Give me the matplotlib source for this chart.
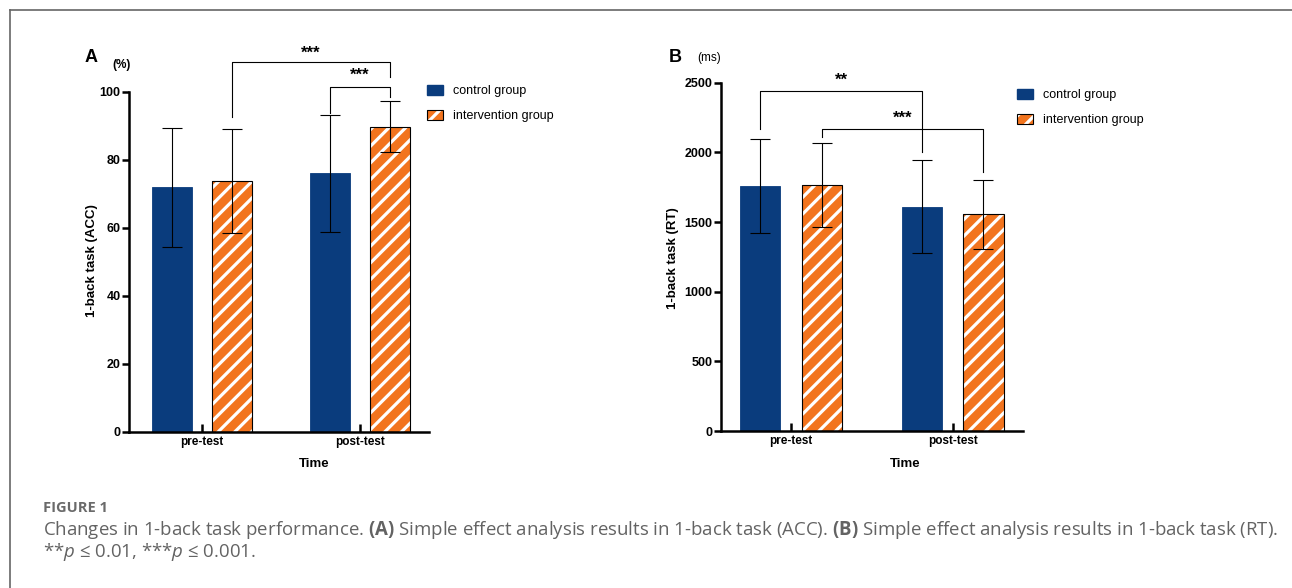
import matplotlib
matplotlib.use("Agg")
import matplotlib.pyplot as plt
from matplotlib.patches import Patch
from matplotlib.lines import Line2D

plt.rcParams['font.family'] = ['Liberation Sans', 'DejaVu Sans']
plt.rcParams['hatch.linewidth'] = 2.3
plt.rcParams['mathtext.fontset'] = 'custom'
plt.rcParams['mathtext.rm'] = 'Open Sans'
plt.rcParams['mathtext.it'] = 'Open Sans:italic'
plt.rcParams['mathtext.bf'] = 'Open Sans:bold'

# data
times = ['pre-test', 'post-test']
groups = ['control group', 'intervention group']

acc_control = [72.0, 76.1]
acc_control_sd = [17.5, 17.2]
acc_interv = [73.8, 89.8]
acc_interv_sd = [15.3, 7.5]

rt_control = [1761, 1610]
rt_control_sd = [337, 333]
rt_interv = [1766, 1556]
rt_interv_sd = [302, 248]

navy = '#0a3c7d'
orange = '#f2741e'
W, H = 1292, 588

fig = plt.figure(figsize=(W / 100, H / 100), dpi=100)


def px_axes(left, right, bottom, top):
    return fig.add_axes([left / W, (H - bottom) / H, (right - left) / W, (bottom - top) / H])


def draw_panel(ax, ctrl, ctrl_sd, intv, intv_sd, ymax, step):
    x = list(range(len(times)))
    off, bw = 0.19, 0.25
    xc = [i - off for i in x]
    xi = [i + off for i in x]
    ax.bar(xc, ctrl, bw, color=navy, edgecolor=navy, linewidth=0.6, zorder=2)
    ax.bar(xi, intv, bw, color=orange, edgecolor='white', hatch='//', linewidth=0, zorder=2)
    ax.bar(xi, intv, bw, fill=False, edgecolor='black', linewidth=0.8, zorder=3)
    ax.errorbar(xc, ctrl, yerr=ctrl_sd, fmt='none', ecolor='black', elinewidth=0.8,
                capsize=7, capthick=0.8, zorder=4)
    ax.errorbar(xi, intv, yerr=intv_sd, fmt='none', ecolor='black', elinewidth=0.8,
                capsize=7, capthick=0.8, zorder=4)
    ax.set_ylim(0, ymax)
    ax.set_yticks(range(0, ymax + 1, step))
    ax.set_xticks(x)
    ax.set_xticklabels(times, fontweight='bold', fontsize=8.5)
    for lab in ax.get_yticklabels():
        lab.set_fontweight('bold')
        lab.set_fontsize(9)
    for s in ['top', 'right']:
        ax.spines[s].set_visible(False)
    for s in ['left', 'bottom']:
        ax.spines[s].set_linewidth(1.8)
    ax.tick_params(axis='y', direction='out', length=5, width=1.8, pad=1)
    ax.tick_params(axis='x', direction='in', length=6, width=1.8, pad=3)
    return xc, xi


def bracket(ax, x1, y1, x2, y2, ytop, label, ylab):
    ax.plot([x1, x1, x2, x2], [y1, ytop, ytop, y2], color='black', lw=0.8,
            clip_on=False, zorder=5)
    ax.text((x1 + x2) / 2, ylab, label, ha='center', va='center', fontsize=12,
            fontweight='bold', clip_on=False)


# Panel A
axA = px_axes(129, 429, 432, 92)
xc, xi = draw_panel(axA, acc_control, acc_control_sd, acc_interv, acc_interv_sd, 100, 20)
axA.set_xlim((129 - 202) / 158, (429 - 202) / 158)
bracket(axA, xi[0], 92.6, xi[1], 104.4, 108.8, '***', 111.5)
bracket(axA, xc[1], 93.8, xi[1], 98.5, 101.5, '***', 105.0)

# Panel B
axB = px_axes(721, 1023, 431, 82.7)
xc, xi = draw_panel(axB, rt_control, rt_control_sd, rt_interv, rt_interv_sd, 2500, 500)
axB.set_xlim((721 - 791) / 161.7, (1023 - 791) / 161.7)
bracket(axB, xc[0], 2166, xc[1], 2005, 2441, '**', 2515)
bracket(axB, xi[0], 2108, xi[1], 1861, 2168, '***', 2245)

# legends
handles = [Patch(facecolor=navy, edgecolor=navy),
           (Patch(facecolor=orange, edgecolor='white', hatch='//', linewidth=0),
            Patch(fill=False, edgecolor='black', linewidth=0.8))]
for lx, ly in [(427, 85), (1017, 89)]:
    fig.legend(handles, groups, loc='upper left', bbox_to_anchor=(lx / W, 1 - ly / H),
               frameon=False, fontsize=9, borderpad=0, borderaxespad=0,
               handlelength=1.3, handleheight=0.8, handletextpad=0.8, labelspacing=1.05)

# panel letters, units, axis titles
fig.text(91 / W, 1 - 57 / H, 'A', fontsize=13, fontweight='bold', ha='center', va='center')
fig.text(122 / W, 1 - 65 / H, '(%)', fontsize=8.5, fontweight='bold', ha='center', va='center')
fig.text(675 / W, 1 - 57 / H, 'B', fontsize=13, fontweight='bold', ha='center', va='center')
fig.text(709 / W, 1 - 58 / H, '(ms)', fontsize=8.5, ha='center', va='center')
fig.text(92 / W, 1 - 261 / H, '1-back task (ACC)', rotation=90, fontsize=9.5,
         fontweight='bold', ha='center', va='center')
fig.text(673 / W, 1 - 258 / H, '1-back task (RT)', rotation=90, fontsize=9.5,
         fontweight='bold', ha='center', va='center')
fig.text(314 / W, 1 - 464 / H, 'Time', fontsize=9.5, fontweight='bold', ha='center', va='center')
fig.text(905 / W, 1 - 464 / H, 'Time', fontsize=9.5, fontweight='bold', ha='center', va='center')

# caption
cap_color = '#636363'
fig.text(43 / W, 1 - 508 / H, 'FIGURE 1', fontsize=10.5, fontweight='bold', family='Open Sans',
         color='#6a6a6a', ha='left', va='center')
fig.text(43 / W, 1 - 530 / H,
         r'Changes in 1-back task performance. $\mathbf{(A)}$ Simple effect analysis results in '
         r'1-back task (ACC). $\mathbf{(B)}$ Simple effect analysis results in 1-back task (RT).',
         fontsize=13.4, family='Open Sans', color=cap_color, ha='left', va='center')
fig.text(43 / W, 1 - 552 / H, r'**$p$ ≤ 0.01, ***$p$ ≤ 0.001.', fontsize=13.4,
         family='Open Sans', color=cap_color, ha='left', va='center')

# frame lines around the figure box
fig.add_artist(Line2D([10 / W, 10 / W], [0, 1 - 10 / H], color='#666666', lw=1.2))
fig.add_artist(Line2D([10 / W, 1], [1 - 10 / H, 1 - 10 / H], color='#666666', lw=1.2))

fig.savefig('out.png', dpi=100)
